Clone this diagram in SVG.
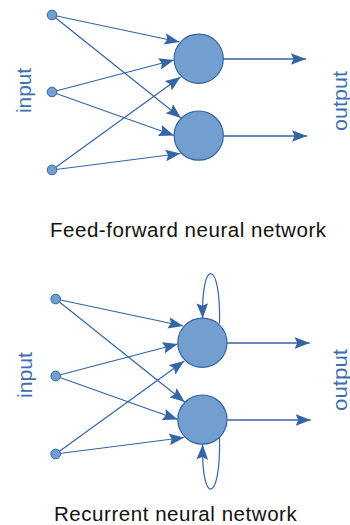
<svg xmlns="http://www.w3.org/2000/svg" width="350" height="525" viewBox="0 0 350 525">
<defs>
<style>
.ln{fill:none;stroke:#3465a4;stroke-width:1.2;marker-end:url(#ah)}
.out{fill:none;stroke:#3465a4;stroke-width:1.5;marker-end:url(#ah)}
.loop{fill:none;stroke:#3465a4;stroke-width:1.2;marker-end:url(#ah)}
.neuron{fill:#729fcf;stroke:#3465a4;stroke-width:1.2}
.inp{fill:#729fcf;stroke:#3465a4;stroke-width:1}
.side{font-family:"Liberation Sans",Arial,sans-serif;font-size:20px;fill:#3f6fb0;text-anchor:middle}
.title{font-family:"Liberation Sans",Arial,sans-serif;font-size:20.5px;fill:#111111}
</style>
<marker id="ah" markerUnits="userSpaceOnUse" markerWidth="16" markerHeight="13" refX="15" refY="6" orient="auto" viewBox="0 0 16 13">
<path d="M0,0.2 L15,6 L0,11.8 L2.5,6 z" fill="#3465a4"/>
</marker>
</defs>
<rect width="350" height="525" fill="#ffffff"/>

<g id="connectors">
<!-- feed-forward -->
<path class="ln" d="M52,15 L179.5,42"/>
<path class="ln" d="M52,92 L174,60"/>
<path class="ln" d="M52,170 L180.5,77"/>
<path class="ln" d="M52,15 L181,118"/>
<path class="ln" d="M52,92 L174,135.5"/>
<path class="ln" d="M52,170 L180.5,153.5"/>
<path class="out" d="M223.4,59 L306,59"/>
<path class="out" d="M223.4,136 L307,136"/>
<!-- recurrent -->
<path class="ln" d="M55.7,299 L183.2,326"/>
<path class="ln" d="M55.7,376 L177.7,344"/>
<path class="ln" d="M55.7,454 L184.2,361"/>
<path class="ln" d="M55.7,299 L184.7,402"/>
<path class="ln" d="M55.7,376 L177.7,419.5"/>
<path class="ln" d="M55.7,454 L184.2,437.5"/>
<path class="out" d="M227.1,343 L309.7,343"/>
<path class="out" d="M227.1,420 L310.7,420"/>
<path class="loop" d="M219.5,323.5 C221,258 201,258 202.7,318.3"/>
<path class="loop" d="M219.5,437.5 C221,505 201,505 202.7,444.5"/>
</g>

<g id="ff-in1"><circle class="inp" cx="52" cy="15" r="4.8"/></g>
<g id="ff-in2"><circle class="inp" cx="52" cy="92" r="4.8"/></g>
<g id="ff-in3"><circle class="inp" cx="52" cy="170" r="4.8"/></g>
<g id="ff-h1"><circle class="neuron" cx="198.7" cy="58.8" r="24.6"/></g>
<g id="ff-h2"><circle class="neuron" cx="198.7" cy="135.6" r="24.6"/></g>

<g id="rn-in1"><circle class="inp" cx="55.7" cy="299" r="4.8"/></g>
<g id="rn-in2"><circle class="inp" cx="55.7" cy="376" r="4.8"/></g>
<g id="rn-in3"><circle class="inp" cx="55.7" cy="454" r="4.8"/></g>
<g id="rn-h1"><circle class="neuron" cx="202.4" cy="342.8" r="24.6"/></g>
<g id="rn-h2"><circle class="neuron" cx="202.4" cy="419.6" r="24.6"/></g>

<g id="labels">
<text class="side" transform="translate(30.7,90.5) rotate(-90)" textLength="45" lengthAdjust="spacingAndGlyphs">input</text>
<text class="side" transform="translate(347,101) rotate(-90)" textLength="60" lengthAdjust="spacingAndGlyphs">output</text>
<text class="side" transform="translate(31.5,375) rotate(-90)" textLength="46" lengthAdjust="spacingAndGlyphs">input</text>
<text class="side" transform="translate(347,380) rotate(-90)" textLength="62" lengthAdjust="spacingAndGlyphs">output</text>
<text class="title" x="50" y="236.7" textLength="276" lengthAdjust="spacing">Feed-forward neural network</text>
<text class="title" x="54" y="521" textLength="242.7" lengthAdjust="spacing">Recurrent neural network</text>
</g>
</svg>
